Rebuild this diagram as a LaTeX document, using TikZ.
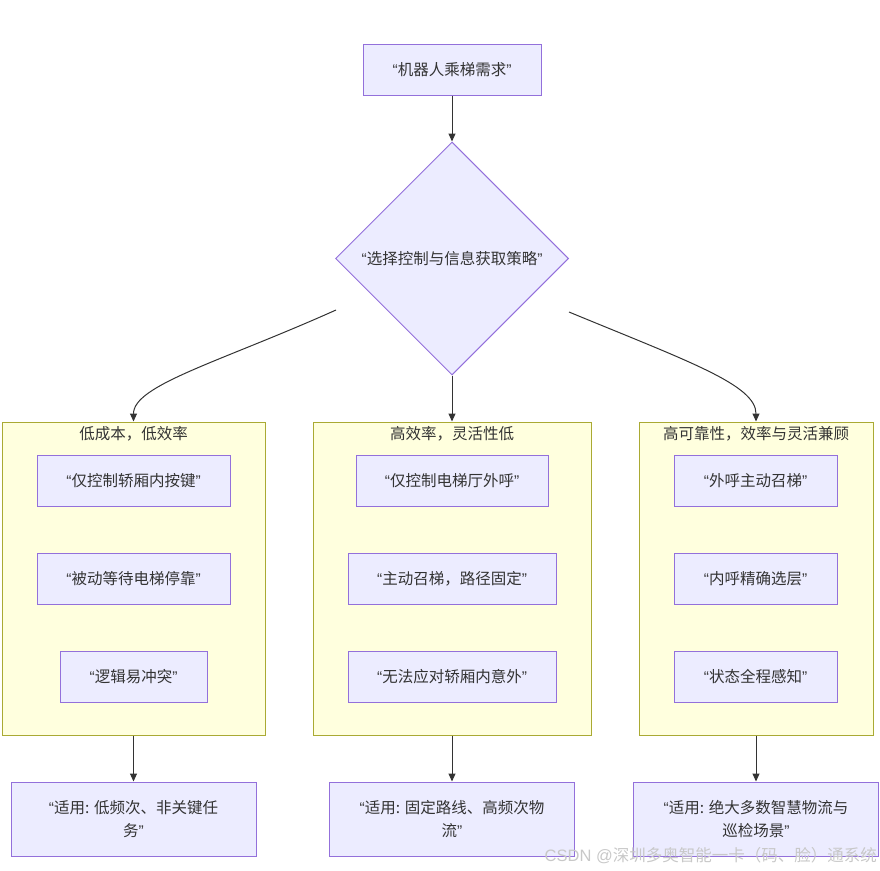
\documentclass[tikz,border=0pt]{standalone}
\usepackage{fontspec}
\setmainfont{Noto Sans CJK SC}
\newfontfamily\latf{Liberation Sans}
\usetikzlibrary{arrows.meta,shapes.geometric}
\newcommand\qo{{\latf “}}
\newcommand\qc{{\latf ”}}
\definecolor{nodef}{HTML}{ECECFF}
\definecolor{nodeb}{HTML}{9370DB}
\definecolor{subf}{HTML}{FFFFDE}
\definecolor{subb}{HTML}{AAAA33}
\definecolor{txt}{HTML}{333333}
\definecolor{wm}{HTML}{C8C8C8}
\tikzset{
  box/.style={draw=nodeb, fill=nodef, line width=1pt, minimum height=51pt, inner sep=0pt, text=txt, font=\fontsize{15.5}{23}\selectfont, align=center},
  subg/.style={draw=subb, fill=subf, line width=1pt, minimum height=313pt, inner sep=0pt},
  ttl/.style={text=txt, font=\fontsize{15.5}{18}\selectfont, inner sep=0pt},
  conn/.style={draw=txt, line width=1pt, -{Triangle[length=8pt,width=7pt]}},
}
\begin{document}
\begin{tikzpicture}[x=1pt,y=-1pt]
\useasboundingbox (0,0) rectangle (880,870);
% top
\node[box, minimum width=178pt] (req) at (452,69.5) {\qo 机器人乘梯需求\qc};
\node[draw=nodeb, fill=nodef, line width=1pt, shape=diamond, aspect=1, minimum width=233pt, minimum height=233pt, inner sep=0pt, text=txt, font=\fontsize{15.5}{18}\selectfont] (dec) at (452,258.5) {\qo 选择控制与信息获取策略\qc};
% subgraphs
\node[subg, minimum width=263pt] (s1) at (133.5,578.5) {};
\node[subg, minimum width=278pt] (s2) at (452,578.5) {};
\node[subg, minimum width=234pt] (s3) at (756,578.5) {};
\node[ttl] (t1) at (133.5,434) {低成本，低效率};
\node[ttl] (t2) at (452,434) {高效率，灵活性低};
\node[ttl] (t3) at (756,434) {高可靠性，效率与灵活兼顾};
% inner nodes
\node[box, minimum width=193pt] (a1) at (133.5,480.5) {\qo 仅控制轿厢内按键\qc};
\node[box, minimum width=193pt] (a2) at (133.5,578.5) {\qo 被动等待电梯停靠\qc};
\node[box, minimum width=147pt] (a3) at (133.5,676.5) {\qo 逻辑易冲突\qc};
\node[box, minimum width=192pt] (b1) at (452,480.5) {\qo 仅控制电梯厅外呼\qc};
\node[box, minimum width=208pt] (b2) at (452,578.5) {\qo 主动召梯，路径固定\qc};
\node[box, minimum width=208pt] (b3) at (452,676.5) {\qo 无法应对轿厢内意外\qc};
\node[box, minimum width=163pt] (c1) at (755.5,480.5) {\qo 外呼主动召梯\qc};
\node[box, minimum width=163pt] (c2) at (755.5,578.5) {\qo 内呼精确选层\qc};
\node[box, minimum width=163pt] (c3) at (755.5,676.5) {\qo 状态全程感知\qc};
% bottom
\node[box, minimum width=245pt, minimum height=74pt] (u1) at (133.5,819) {\qo 适用: 低频次、非关键任\\务\qc};
\node[box, minimum width=245pt, minimum height=74pt] (u2) at (452,819) {\qo 适用: 固定路线、高频次物\\流\qc};
\node[box, minimum width=245pt, minimum height=74pt] (u3) at (756,819) {\qo 适用: 绝大多数智慧物流与\\巡检场景\qc};
% connectors
\draw[conn] (req) -- (dec);
\draw[conn] (dec.south) -- (s2.north);
\coordinate (lstart) at (336,310);
\coordinate (rstart) at (569,312);
\draw[conn] (lstart) .. controls (220,362) and (133.5,385) .. (s1.north);
\draw[conn] (rstart) .. controls (690,362) and (756,385) .. (s3.north);
\draw[conn] (s1.south) -- (u1.north);
\draw[conn] (s2.south) -- (u2.north);
\draw[conn] (s3.south) -- (u3.north);
% watermark
\node[anchor=east, text=wm, font=\fontsize{16.5}{18}\selectfont, inner sep=0pt] (wmk) at (877,856) {{\latf CSDN @}深圳多奥智能一卡（码、脸）通系统};
\end{tikzpicture}
\end{document}
